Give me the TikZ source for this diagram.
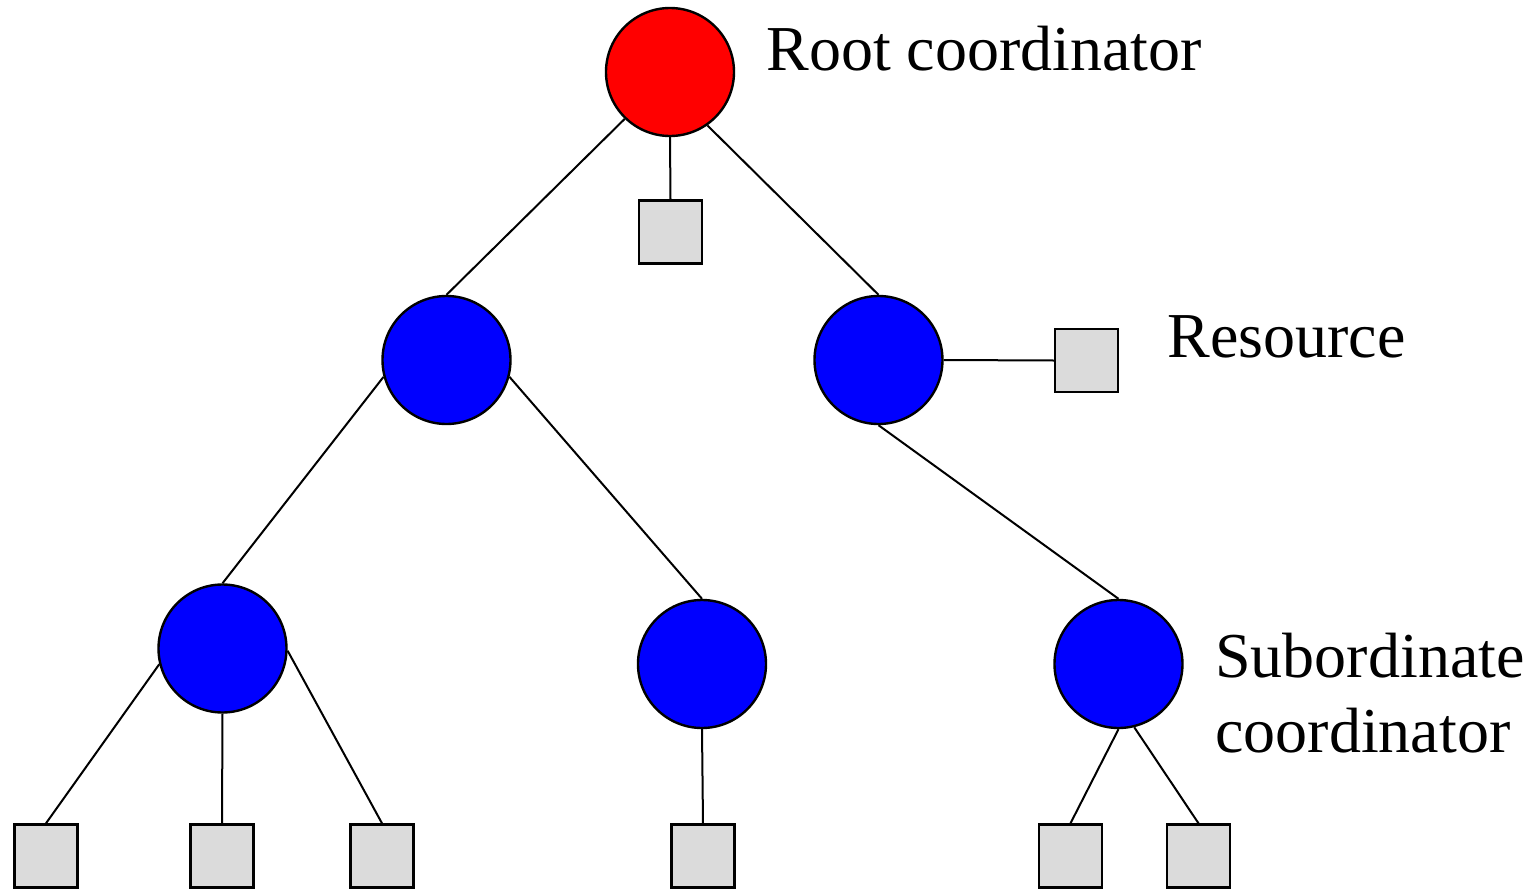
\documentclass[tikz,border=0pt]{standalone}
\usepackage{fontspec}
\setmainfont{Liberation Serif}
\begin{document}
\begin{tikzpicture}[x=0.5pt,y=-0.5pt,
  coord/.style={circle,draw=black,line width=1.2pt,minimum size=64pt,inner sep=0pt},
  rootcoord/.style={coord,fill=red},
  subcoord/.style={coord,fill=blue},
  resource/.style={rectangle,draw=black,line width=1.2pt,fill=black!14,minimum size=31.5pt,inner sep=0pt},
  link/.style={line width=1pt,black},
  caption/.style={anchor=base west,inner sep=0pt,font=\fontsize{32}{37.5}\selectfont,align=left}]
\useasboundingbox (0,0) rectangle (1539,889);

% coordinators
\node[rootcoord] (root) at (670,72) {};
\node[subcoord] (m1) at (446.5,360) {};
\node[subcoord] (m2) at (878.5,360) {};
\node[subcoord] (b1) at (222.5,648.5) {};
\node[subcoord] (b2) at (702,664) {};
\node[subcoord] (b3) at (1118.5,664) {};

% resources
\node[resource] (r0) at (670.5,232) {};
\node[resource] (r1) at (1086.5,360.5) {};
\node[resource] (s1) at (46,856) {};
\node[resource] (s2) at (222,856) {};
\node[resource] (s3) at (382,856) {};
\node[resource] (s4) at (703,856) {};
\node[resource] (s5) at (1070.5,856) {};
\node[resource] (s6) at (1198.5,856) {};

% links
\draw[link] (root.-134) -- (m1.north);
\draw[link] (root.south) -- (r0.north);
\draw[link] (root.-55) -- (m2.north);
\draw[link] (m1.195) -- (b1.north);
\draw[link] (m1.-15) -- (b2.north);
\draw[link] (m2.east) -- (r1.west);
\draw[link] (m2.south) -- (b3.north);
\draw[link] (b1.194) -- (s1.north);
\draw[link] (b1.south) -- (s2.north);
\draw[link] (b1.-2) -- (s3.north);
\draw[link] (b2.south) -- (s4.north);
\draw[link] (b3.south) -- (s5.north);
\draw[link] (b3.-76) -- (s6.north);

% labels (base of a two-line label is its last line)
\node[caption] (lroot) at (766,70) {Root coordinator};
\node[caption] (lres) at (1167,357) {Resource};
\node[caption] (lsub) at (1215,752) {Subordinate\\coordinator};
\end{tikzpicture}
\end{document}
